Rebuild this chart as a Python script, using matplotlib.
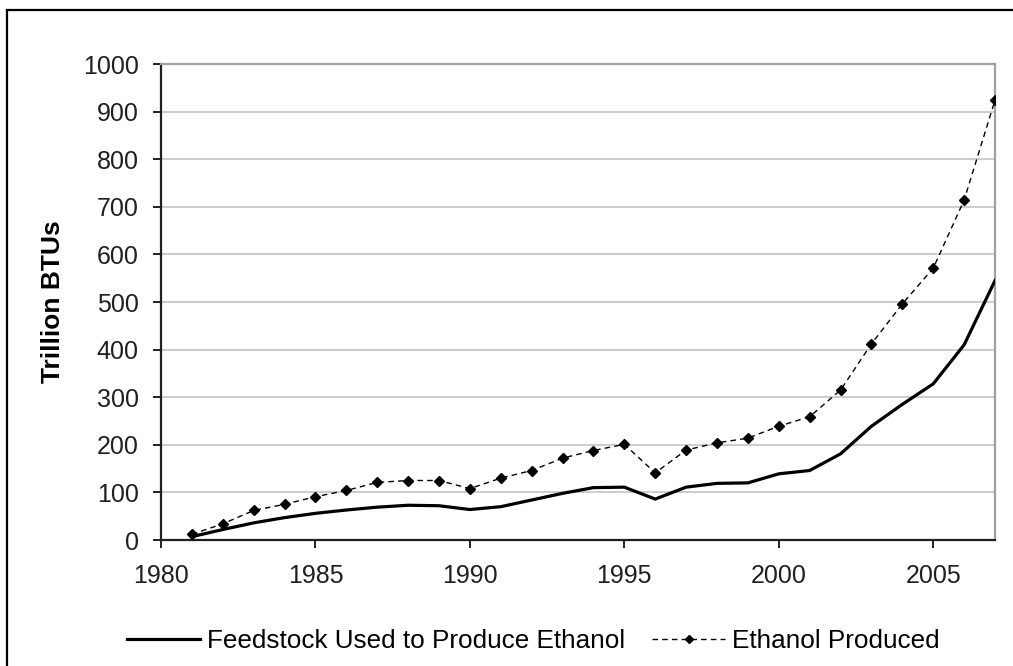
import matplotlib
matplotlib.use("Agg")
import matplotlib.pyplot as plt
from matplotlib.lines import Line2D

plt.rcParams['font.family'] = ['Liberation Sans', 'DejaVu Sans']

years = [1981, 1982, 1983, 1984, 1985, 1986, 1987, 1988, 1989, 1990,
         1991, 1992, 1993, 1994, 1995, 1996, 1997, 1998, 1999, 2000,
         2001, 2002, 2003, 2004, 2005, 2006, 2007]
feedstock = [7, 22, 36, 47, 56, 63, 69, 73, 72, 64,
             70, 84, 98, 110, 111, 86, 111, 119, 120, 139,
             146, 181, 239, 285, 328, 410, 545]
ethanol = [12, 34, 62, 75, 91, 104, 121, 125, 125, 108,
           130, 146, 172, 188, 201, 141, 189, 204, 214, 239,
           259, 315, 412, 496, 571, 714, 924]
x_ticks = [1980, 1985, 1990, 1995, 2000, 2005]
y_ticks = list(range(0, 1001, 100))

W, H = 1013, 666
fig = plt.figure(figsize=(W / 100, H / 100), dpi=100)
ax = fig.add_axes([161 / W, 1 - 540 / H, 834 / W, 476 / H])

ax.plot(years, feedstock, color='black', lw=2.3, solid_joinstyle='miter',
        label='Feedstock Used to Produce Ethanol', zorder=3)
ax.plot(years, ethanol, color='black', lw=1.0, dashes=(4, 3), marker='D',
        markersize=5, label='Ethanol Produced', zorder=4)

ax.set_xlim(1980, 2007)
ax.set_ylim(0, 1000)
ax.set_xticks(x_ticks)
ax.set_yticks(y_ticks)
ax.grid(axis='y', color='#c4c4c4', lw=1.2)
ax.set_axisbelow(True)

for s in ['top', 'right']:
    ax.spines[s].set_color('#a0a0a0')
    ax.spines[s].set_linewidth(1.6)
for s in ['left', 'bottom']:
    ax.spines[s].set_color('#202020')
    ax.spines[s].set_linewidth(1.6)

ax.tick_params(axis='y', direction='out', length=6, width=1.4, pad=10,
               labelsize=18, colors='#202020')
ax.tick_params(axis='x', direction='out', length=6, width=1.4, pad=11,
               labelsize=18, colors='#202020')

fig.text(53 / W, 1 - 302 / H, 'Trillion BTUs', rotation=90, ha='center',
         va='center', fontsize=19, fontweight='bold')

fig.legend(loc='center left', bbox_to_anchor=(127 / W, 1 - 641 / H),
           ncol=2, frameon=False, fontsize=18.8, handlelength=2.8,
           handletextpad=0.27, columnspacing=1.03, borderpad=0,
           borderaxespad=0, markerscale=0.8)

# outer chart border (left and top edges only are visible)
fig.add_artist(Line2D([7 / W, 7 / W], [0, 1 - 10 / H], color='black',
                      lw=1.6, transform=fig.transFigure))
fig.add_artist(Line2D([7 / W, 1], [1 - 10 / H, 1 - 10 / H], color='black',
                      lw=1.6, transform=fig.transFigure))

fig.savefig('out.png', dpi=100)
